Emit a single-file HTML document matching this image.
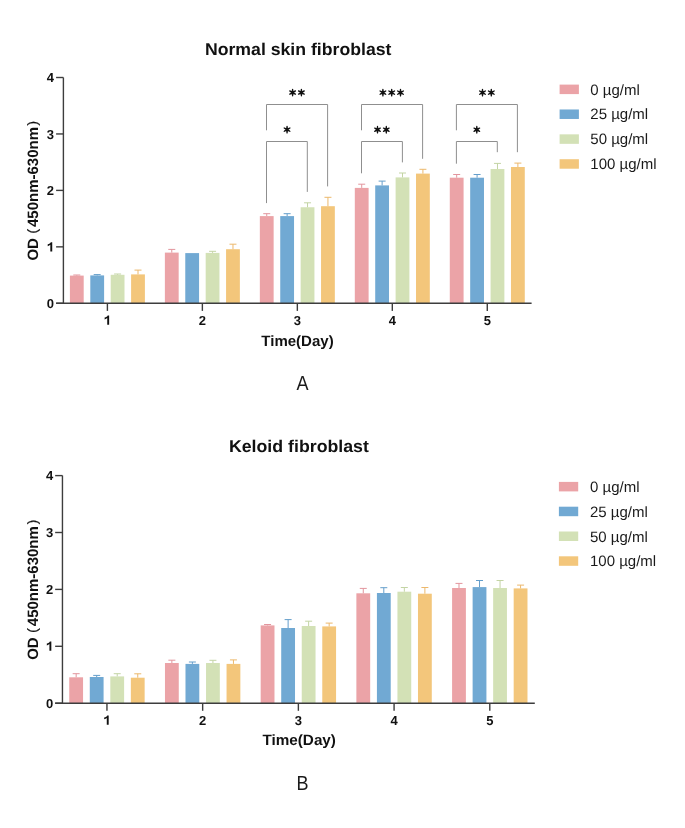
<!DOCTYPE html>
<html><head><meta charset="utf-8"><style>
html,body{margin:0;padding:0;background:#fff;}
body{width:685px;height:828px;overflow:hidden;}
svg{display:block;filter:blur(0.4px);}
text{font-family:"Liberation Sans",sans-serif;text-rendering:geometricPrecision;}
.tk{font-size:13px;font-weight:bold;fill:#111;}
.ttl{font-size:17px;font-weight:bold;fill:#111;}
.axt{font-size:15px;font-weight:bold;fill:#111;}
.lg{font-size:15px;fill:#1a1a1a;}
.par{font-size:13.5px;fill:#111;stroke:#111;stroke-width:0.3px;}
.lbl{font-size:20.5px;fill:#1a1a1a;}
</style></head><body>
<svg width="685" height="828" viewBox="0 0 685 828">
<rect width="685" height="828" fill="#fff"/>
<rect x="69.90" y="275.60" width="13.80" height="27.70" fill="#EBA3A7"/>
<line x1="76.80" y1="275.60" x2="76.80" y2="275.00" stroke="#E2959D" stroke-width="1"/>
<line x1="73.30" y1="275.00" x2="80.30" y2="275.00" stroke="#E2959D" stroke-width="1"/>
<rect x="90.30" y="275.40" width="13.80" height="27.90" fill="#71A9D3"/>
<line x1="97.20" y1="275.40" x2="97.20" y2="274.60" stroke="#649ECB" stroke-width="1"/>
<line x1="93.70" y1="274.60" x2="100.70" y2="274.60" stroke="#649ECB" stroke-width="1"/>
<rect x="110.70" y="274.80" width="13.80" height="28.50" fill="#D3E1B6"/>
<line x1="117.60" y1="274.80" x2="117.60" y2="274.00" stroke="#C3D4A4" stroke-width="1"/>
<line x1="114.10" y1="274.00" x2="121.10" y2="274.00" stroke="#C3D4A4" stroke-width="1"/>
<rect x="131.10" y="274.40" width="13.80" height="28.90" fill="#F3C67B"/>
<line x1="138.00" y1="274.40" x2="138.00" y2="270.10" stroke="#ECB86C" stroke-width="1"/>
<line x1="134.50" y1="270.10" x2="141.50" y2="270.10" stroke="#ECB86C" stroke-width="1"/>
<rect x="164.87" y="252.60" width="13.80" height="50.70" fill="#EBA3A7"/>
<line x1="171.77" y1="252.60" x2="171.77" y2="249.40" stroke="#E2959D" stroke-width="1"/>
<line x1="168.27" y1="249.40" x2="175.27" y2="249.40" stroke="#E2959D" stroke-width="1"/>
<rect x="185.27" y="253.10" width="13.80" height="50.20" fill="#71A9D3"/>
<rect x="205.67" y="252.90" width="13.80" height="50.40" fill="#D3E1B6"/>
<line x1="212.57" y1="252.90" x2="212.57" y2="251.30" stroke="#C3D4A4" stroke-width="1"/>
<line x1="209.07" y1="251.30" x2="216.07" y2="251.30" stroke="#C3D4A4" stroke-width="1"/>
<rect x="226.07" y="249.20" width="13.80" height="54.10" fill="#F3C67B"/>
<line x1="232.97" y1="249.20" x2="232.97" y2="244.20" stroke="#ECB86C" stroke-width="1"/>
<line x1="229.47" y1="244.20" x2="236.47" y2="244.20" stroke="#ECB86C" stroke-width="1"/>
<rect x="259.84" y="216.10" width="13.80" height="87.20" fill="#EBA3A7"/>
<line x1="266.74" y1="216.10" x2="266.74" y2="213.70" stroke="#E2959D" stroke-width="1"/>
<line x1="263.24" y1="213.70" x2="270.24" y2="213.70" stroke="#E2959D" stroke-width="1"/>
<rect x="280.24" y="216.10" width="13.80" height="87.20" fill="#71A9D3"/>
<line x1="287.14" y1="216.10" x2="287.14" y2="213.70" stroke="#649ECB" stroke-width="1"/>
<line x1="283.64" y1="213.70" x2="290.64" y2="213.70" stroke="#649ECB" stroke-width="1"/>
<rect x="300.64" y="207.25" width="13.80" height="96.05" fill="#D3E1B6"/>
<line x1="307.54" y1="207.25" x2="307.54" y2="202.80" stroke="#C3D4A4" stroke-width="1"/>
<line x1="304.04" y1="202.80" x2="311.04" y2="202.80" stroke="#C3D4A4" stroke-width="1"/>
<rect x="321.04" y="206.20" width="13.80" height="97.10" fill="#F3C67B"/>
<line x1="327.94" y1="206.20" x2="327.94" y2="197.30" stroke="#ECB86C" stroke-width="1"/>
<line x1="324.44" y1="197.30" x2="331.44" y2="197.30" stroke="#ECB86C" stroke-width="1"/>
<rect x="354.81" y="187.90" width="13.80" height="115.40" fill="#EBA3A7"/>
<line x1="361.71" y1="187.90" x2="361.71" y2="184.20" stroke="#E2959D" stroke-width="1"/>
<line x1="358.21" y1="184.20" x2="365.21" y2="184.20" stroke="#E2959D" stroke-width="1"/>
<rect x="375.21" y="185.40" width="13.80" height="117.90" fill="#71A9D3"/>
<line x1="382.11" y1="185.40" x2="382.11" y2="181.10" stroke="#649ECB" stroke-width="1"/>
<line x1="378.61" y1="181.10" x2="385.61" y2="181.10" stroke="#649ECB" stroke-width="1"/>
<rect x="395.61" y="177.40" width="13.80" height="125.90" fill="#D3E1B6"/>
<line x1="402.51" y1="177.40" x2="402.51" y2="173.00" stroke="#C3D4A4" stroke-width="1"/>
<line x1="399.01" y1="173.00" x2="406.01" y2="173.00" stroke="#C3D4A4" stroke-width="1"/>
<rect x="416.01" y="173.60" width="13.80" height="129.70" fill="#F3C67B"/>
<line x1="422.91" y1="173.60" x2="422.91" y2="169.30" stroke="#ECB86C" stroke-width="1"/>
<line x1="419.41" y1="169.30" x2="426.41" y2="169.30" stroke="#ECB86C" stroke-width="1"/>
<rect x="449.78" y="177.70" width="13.80" height="125.60" fill="#EBA3A7"/>
<line x1="456.68" y1="177.70" x2="456.68" y2="174.50" stroke="#E2959D" stroke-width="1"/>
<line x1="453.18" y1="174.50" x2="460.18" y2="174.50" stroke="#E2959D" stroke-width="1"/>
<rect x="470.18" y="177.70" width="13.80" height="125.60" fill="#71A9D3"/>
<line x1="477.08" y1="177.70" x2="477.08" y2="174.50" stroke="#649ECB" stroke-width="1"/>
<line x1="473.58" y1="174.50" x2="480.58" y2="174.50" stroke="#649ECB" stroke-width="1"/>
<rect x="490.58" y="169.00" width="13.80" height="134.30" fill="#D3E1B6"/>
<line x1="497.48" y1="169.00" x2="497.48" y2="163.40" stroke="#C3D4A4" stroke-width="1"/>
<line x1="493.98" y1="163.40" x2="500.98" y2="163.40" stroke="#C3D4A4" stroke-width="1"/>
<rect x="510.98" y="167.00" width="13.80" height="136.30" fill="#F3C67B"/>
<line x1="517.88" y1="167.00" x2="517.88" y2="163.10" stroke="#ECB86C" stroke-width="1"/>
<line x1="514.38" y1="163.10" x2="521.38" y2="163.10" stroke="#ECB86C" stroke-width="1"/>
<path d="M63.40 77.50 V303.30 M56.10 303.30 H531.60" stroke="#3d3d3d" stroke-width="1.4" fill="none"/>
<line x1="56.10" y1="303.30" x2="63.40" y2="303.30" stroke="#3d3d3d" stroke-width="1.4"/>
<text x="54.10" y="308.00" class="tk" text-anchor="end">0</text>
<line x1="56.10" y1="246.85" x2="63.40" y2="246.85" stroke="#3d3d3d" stroke-width="1.4"/>
<path d="M52.23 251.55 L52.23 242.24 L50.77 242.24 C50.38 243.23 49.34 243.88 47.72 244.37 L47.72 246.22 C48.82 245.83 49.73 245.31 50.32 244.86 L50.32 251.55 Z" fill="#111"/>
<line x1="56.10" y1="190.40" x2="63.40" y2="190.40" stroke="#3d3d3d" stroke-width="1.4"/>
<text x="54.10" y="195.10" class="tk" text-anchor="end">2</text>
<line x1="56.10" y1="133.95" x2="63.40" y2="133.95" stroke="#3d3d3d" stroke-width="1.4"/>
<text x="54.10" y="138.65" class="tk" text-anchor="end">3</text>
<line x1="56.10" y1="77.50" x2="63.40" y2="77.50" stroke="#3d3d3d" stroke-width="1.4"/>
<text x="54.10" y="82.20" class="tk" text-anchor="end">4</text>
<line x1="107.40" y1="303.30" x2="107.40" y2="310.90" stroke="#3d3d3d" stroke-width="1.4"/>
<path d="M109.14 324.80 L109.14 315.49 L107.69 315.49 C107.30 316.48 106.26 317.13 104.63 317.62 L104.63 319.47 C105.74 319.08 106.65 318.56 107.23 318.11 L107.23 324.80 Z" fill="#111"/>
<line x1="202.37" y1="303.30" x2="202.37" y2="310.90" stroke="#3d3d3d" stroke-width="1.4"/>
<text x="202.37" y="324.80" class="tk" text-anchor="middle">2</text>
<line x1="297.34" y1="303.30" x2="297.34" y2="310.90" stroke="#3d3d3d" stroke-width="1.4"/>
<text x="297.34" y="324.80" class="tk" text-anchor="middle">3</text>
<line x1="392.31" y1="303.30" x2="392.31" y2="310.90" stroke="#3d3d3d" stroke-width="1.4"/>
<text x="392.31" y="324.80" class="tk" text-anchor="middle">4</text>
<line x1="487.28" y1="303.30" x2="487.28" y2="310.90" stroke="#3d3d3d" stroke-width="1.4"/>
<text x="487.28" y="324.80" class="tk" text-anchor="middle">5</text>
<text x="298.20" y="54.50" class="ttl" text-anchor="middle" textLength="186.5" lengthAdjust="spacingAndGlyphs">Normal skin fibroblast</text>
<text x="297.50" y="345.60" class="axt" text-anchor="middle" textLength="72.3" lengthAdjust="spacingAndGlyphs">Time(Day)</text>
<g transform="translate(38.00 260.60) rotate(-90)"><text x="0" y="0" class="axt">OD</text><text x="27" y="-1.0" class="par">(</text><text x="33.6" y="0" class="axt">450nm-630nm</text><text x="135" y="-1.0" class="par">)</text></g>
<text transform="translate(302.40 390.00) scale(0.88 1)" class="lbl" text-anchor="middle">A</text>
<rect x="559.60" y="84.60" width="19.3" height="9.5" fill="#EBA3A7"/>
<text x="590.30" y="94.60" class="lg">0 µg/ml</text>
<rect x="559.60" y="109.47" width="19.3" height="9.5" fill="#71A9D3"/>
<text x="590.30" y="119.47" class="lg">25 µg/ml</text>
<rect x="559.60" y="134.34" width="19.3" height="9.5" fill="#D3E1B6"/>
<text x="590.30" y="144.34" class="lg">50 µg/ml</text>
<rect x="559.60" y="159.21" width="19.3" height="9.5" fill="#F3C67B"/>
<text x="590.30" y="169.21" class="lg">100 µg/ml</text>
<path d="M266.50 130.30 V104.50 H327.60 V186.40" stroke="#8f8f8f" stroke-width="1" fill="none"/>
<path d="M266.50 203.10 V141.50 H307.30 V191.90" stroke="#8f8f8f" stroke-width="1" fill="none"/>
<path d="M361.50 130.30 V104.50 H422.60 V158.80" stroke="#8f8f8f" stroke-width="1" fill="none"/>
<path d="M361.50 173.30 V141.50 H402.40 V162.40" stroke="#8f8f8f" stroke-width="1" fill="none"/>
<path d="M456.40 130.30 V104.50 H517.40 V152.20" stroke="#8f8f8f" stroke-width="1" fill="none"/>
<path d="M456.40 163.70 V141.50 H497.30 V152.20" stroke="#8f8f8f" stroke-width="1" fill="none"/>
<path d="M291.55 92.55 L291.98 95.85 L293.23 95.85 L293.65 92.55 Z M293.23 95.85 A0.62 0.62 0 1 0 291.98 95.85 A0.62 0.62 0 1 0 293.23 95.85 Z M292.08 93.46 L295.15 94.74 L295.77 93.66 L293.12 91.64 Z M296.08 94.20 A0.62 0.62 0 1 0 294.83 94.20 A0.62 0.62 0 1 0 296.08 94.20 Z M293.12 93.46 L295.77 91.44 L295.15 90.36 L292.08 91.64 Z M296.08 90.90 A0.62 0.62 0 1 0 294.83 90.90 A0.62 0.62 0 1 0 296.08 90.90 Z M293.65 92.55 L293.23 89.25 L291.98 89.25 L291.55 92.55 Z M293.23 89.25 A0.62 0.62 0 1 0 291.98 89.25 A0.62 0.62 0 1 0 293.23 89.25 Z M292.08 91.64 L289.43 93.66 L290.05 94.74 L293.12 93.46 Z M290.37 94.20 A0.62 0.62 0 1 0 289.12 94.20 A0.62 0.62 0 1 0 290.37 94.20 Z M293.12 91.64 L290.05 90.36 L289.43 91.44 L292.08 93.46 Z M290.37 90.90 A0.62 0.62 0 1 0 289.12 90.90 A0.62 0.62 0 1 0 290.37 90.90 Z" fill="#111"/><circle cx="292.60" cy="92.55" r="1.25" fill="#111"/>
<path d="M300.35 92.55 L300.77 95.85 L302.02 95.85 L302.45 92.55 Z M302.02 95.85 A0.62 0.62 0 1 0 300.77 95.85 A0.62 0.62 0 1 0 302.02 95.85 Z M300.88 93.46 L303.95 94.74 L304.57 93.66 L301.92 91.64 Z M304.88 94.20 A0.62 0.62 0 1 0 303.63 94.20 A0.62 0.62 0 1 0 304.88 94.20 Z M301.92 93.46 L304.57 91.44 L303.95 90.36 L300.88 91.64 Z M304.88 90.90 A0.62 0.62 0 1 0 303.63 90.90 A0.62 0.62 0 1 0 304.88 90.90 Z M302.45 92.55 L302.02 89.25 L300.77 89.25 L300.35 92.55 Z M302.02 89.25 A0.62 0.62 0 1 0 300.77 89.25 A0.62 0.62 0 1 0 302.02 89.25 Z M300.88 91.64 L298.23 93.66 L298.85 94.74 L301.92 93.46 Z M299.17 94.20 A0.62 0.62 0 1 0 297.92 94.20 A0.62 0.62 0 1 0 299.17 94.20 Z M301.92 91.64 L298.85 90.36 L298.23 91.44 L300.88 93.46 Z M299.17 90.90 A0.62 0.62 0 1 0 297.92 90.90 A0.62 0.62 0 1 0 299.17 90.90 Z" fill="#111"/><circle cx="301.40" cy="92.55" r="1.25" fill="#111"/>
<path d="M286.00 129.60 L286.43 132.90 L287.68 132.90 L288.10 129.60 Z M287.68 132.90 A0.62 0.62 0 1 0 286.43 132.90 A0.62 0.62 0 1 0 287.68 132.90 Z M286.53 130.51 L289.60 131.79 L290.22 130.71 L287.57 128.69 Z M290.53 131.25 A0.62 0.62 0 1 0 289.28 131.25 A0.62 0.62 0 1 0 290.53 131.25 Z M287.57 130.51 L290.22 128.49 L289.60 127.41 L286.53 128.69 Z M290.53 127.95 A0.62 0.62 0 1 0 289.28 127.95 A0.62 0.62 0 1 0 290.53 127.95 Z M288.10 129.60 L287.68 126.30 L286.43 126.30 L286.00 129.60 Z M287.68 126.30 A0.62 0.62 0 1 0 286.43 126.30 A0.62 0.62 0 1 0 287.68 126.30 Z M286.53 128.69 L283.88 130.71 L284.50 131.79 L287.57 130.51 Z M284.82 131.25 A0.62 0.62 0 1 0 283.57 131.25 A0.62 0.62 0 1 0 284.82 131.25 Z M287.57 128.69 L284.50 127.41 L283.88 128.49 L286.53 130.51 Z M284.82 127.95 A0.62 0.62 0 1 0 283.57 127.95 A0.62 0.62 0 1 0 284.82 127.95 Z" fill="#111"/><circle cx="287.05" cy="129.60" r="1.25" fill="#111"/>
<path d="M381.85 92.60 L382.27 95.90 L383.52 95.90 L383.95 92.60 Z M383.52 95.90 A0.62 0.62 0 1 0 382.27 95.90 A0.62 0.62 0 1 0 383.52 95.90 Z M382.38 93.51 L385.45 94.79 L386.07 93.71 L383.42 91.69 Z M386.38 94.25 A0.62 0.62 0 1 0 385.13 94.25 A0.62 0.62 0 1 0 386.38 94.25 Z M383.42 93.51 L386.07 91.49 L385.45 90.41 L382.38 91.69 Z M386.38 90.95 A0.62 0.62 0 1 0 385.13 90.95 A0.62 0.62 0 1 0 386.38 90.95 Z M383.95 92.60 L383.52 89.30 L382.27 89.30 L381.85 92.60 Z M383.52 89.30 A0.62 0.62 0 1 0 382.27 89.30 A0.62 0.62 0 1 0 383.52 89.30 Z M382.38 91.69 L379.73 93.71 L380.35 94.79 L383.42 93.51 Z M380.67 94.25 A0.62 0.62 0 1 0 379.42 94.25 A0.62 0.62 0 1 0 380.67 94.25 Z M383.42 91.69 L380.35 90.41 L379.73 91.49 L382.38 93.51 Z M380.67 90.95 A0.62 0.62 0 1 0 379.42 90.95 A0.62 0.62 0 1 0 380.67 90.95 Z" fill="#111"/><circle cx="382.90" cy="92.60" r="1.25" fill="#111"/>
<path d="M390.65 92.60 L391.07 95.90 L392.32 95.90 L392.75 92.60 Z M392.32 95.90 A0.62 0.62 0 1 0 391.07 95.90 A0.62 0.62 0 1 0 392.32 95.90 Z M391.18 93.51 L394.25 94.79 L394.87 93.71 L392.22 91.69 Z M395.18 94.25 A0.62 0.62 0 1 0 393.93 94.25 A0.62 0.62 0 1 0 395.18 94.25 Z M392.22 93.51 L394.87 91.49 L394.25 90.41 L391.18 91.69 Z M395.18 90.95 A0.62 0.62 0 1 0 393.93 90.95 A0.62 0.62 0 1 0 395.18 90.95 Z M392.75 92.60 L392.32 89.30 L391.07 89.30 L390.65 92.60 Z M392.32 89.30 A0.62 0.62 0 1 0 391.07 89.30 A0.62 0.62 0 1 0 392.32 89.30 Z M391.18 91.69 L388.53 93.71 L389.15 94.79 L392.22 93.51 Z M389.47 94.25 A0.62 0.62 0 1 0 388.22 94.25 A0.62 0.62 0 1 0 389.47 94.25 Z M392.22 91.69 L389.15 90.41 L388.53 91.49 L391.18 93.51 Z M389.47 90.95 A0.62 0.62 0 1 0 388.22 90.95 A0.62 0.62 0 1 0 389.47 90.95 Z" fill="#111"/><circle cx="391.70" cy="92.60" r="1.25" fill="#111"/>
<path d="M399.45 92.60 L399.88 95.90 L401.12 95.90 L401.55 92.60 Z M401.12 95.90 A0.62 0.62 0 1 0 399.88 95.90 A0.62 0.62 0 1 0 401.12 95.90 Z M399.98 93.51 L403.05 94.79 L403.67 93.71 L401.02 91.69 Z M403.98 94.25 A0.62 0.62 0 1 0 402.73 94.25 A0.62 0.62 0 1 0 403.98 94.25 Z M401.02 93.51 L403.67 91.49 L403.05 90.41 L399.98 91.69 Z M403.98 90.95 A0.62 0.62 0 1 0 402.73 90.95 A0.62 0.62 0 1 0 403.98 90.95 Z M401.55 92.60 L401.12 89.30 L399.88 89.30 L399.45 92.60 Z M401.12 89.30 A0.62 0.62 0 1 0 399.88 89.30 A0.62 0.62 0 1 0 401.12 89.30 Z M399.98 91.69 L397.33 93.71 L397.95 94.79 L401.02 93.51 Z M398.27 94.25 A0.62 0.62 0 1 0 397.02 94.25 A0.62 0.62 0 1 0 398.27 94.25 Z M401.02 91.69 L397.95 90.41 L397.33 91.49 L399.98 93.51 Z M398.27 90.95 A0.62 0.62 0 1 0 397.02 90.95 A0.62 0.62 0 1 0 398.27 90.95 Z" fill="#111"/><circle cx="400.50" cy="92.60" r="1.25" fill="#111"/>
<path d="M376.45 129.70 L376.88 133.00 L378.12 133.00 L378.55 129.70 Z M378.12 133.00 A0.62 0.62 0 1 0 376.88 133.00 A0.62 0.62 0 1 0 378.12 133.00 Z M376.98 130.61 L380.05 131.89 L380.67 130.81 L378.02 128.79 Z M380.98 131.35 A0.62 0.62 0 1 0 379.73 131.35 A0.62 0.62 0 1 0 380.98 131.35 Z M378.02 130.61 L380.67 128.59 L380.05 127.51 L376.98 128.79 Z M380.98 128.05 A0.62 0.62 0 1 0 379.73 128.05 A0.62 0.62 0 1 0 380.98 128.05 Z M378.55 129.70 L378.12 126.40 L376.88 126.40 L376.45 129.70 Z M378.12 126.40 A0.62 0.62 0 1 0 376.88 126.40 A0.62 0.62 0 1 0 378.12 126.40 Z M376.98 128.79 L374.33 130.81 L374.95 131.89 L378.02 130.61 Z M375.27 131.35 A0.62 0.62 0 1 0 374.02 131.35 A0.62 0.62 0 1 0 375.27 131.35 Z M378.02 128.79 L374.95 127.51 L374.33 128.59 L376.98 130.61 Z M375.27 128.05 A0.62 0.62 0 1 0 374.02 128.05 A0.62 0.62 0 1 0 375.27 128.05 Z" fill="#111"/><circle cx="377.50" cy="129.70" r="1.25" fill="#111"/>
<path d="M385.25 129.70 L385.67 133.00 L386.92 133.00 L387.35 129.70 Z M386.92 133.00 A0.62 0.62 0 1 0 385.67 133.00 A0.62 0.62 0 1 0 386.92 133.00 Z M385.77 130.61 L388.85 131.89 L389.47 130.81 L386.82 128.79 Z M389.78 131.35 A0.62 0.62 0 1 0 388.53 131.35 A0.62 0.62 0 1 0 389.78 131.35 Z M386.82 130.61 L389.47 128.59 L388.85 127.51 L385.77 128.79 Z M389.78 128.05 A0.62 0.62 0 1 0 388.53 128.05 A0.62 0.62 0 1 0 389.78 128.05 Z M387.35 129.70 L386.92 126.40 L385.67 126.40 L385.25 129.70 Z M386.92 126.40 A0.62 0.62 0 1 0 385.67 126.40 A0.62 0.62 0 1 0 386.92 126.40 Z M385.77 128.79 L383.13 130.81 L383.75 131.89 L386.82 130.61 Z M384.07 131.35 A0.62 0.62 0 1 0 382.82 131.35 A0.62 0.62 0 1 0 384.07 131.35 Z M386.82 128.79 L383.75 127.51 L383.13 128.59 L385.77 130.61 Z M384.07 128.05 A0.62 0.62 0 1 0 382.82 128.05 A0.62 0.62 0 1 0 384.07 128.05 Z" fill="#111"/><circle cx="386.30" cy="129.70" r="1.25" fill="#111"/>
<path d="M481.45 92.60 L481.88 95.90 L483.12 95.90 L483.55 92.60 Z M483.12 95.90 A0.62 0.62 0 1 0 481.88 95.90 A0.62 0.62 0 1 0 483.12 95.90 Z M481.98 93.51 L485.05 94.79 L485.67 93.71 L483.02 91.69 Z M485.98 94.25 A0.62 0.62 0 1 0 484.73 94.25 A0.62 0.62 0 1 0 485.98 94.25 Z M483.02 93.51 L485.67 91.49 L485.05 90.41 L481.98 91.69 Z M485.98 90.95 A0.62 0.62 0 1 0 484.73 90.95 A0.62 0.62 0 1 0 485.98 90.95 Z M483.55 92.60 L483.12 89.30 L481.88 89.30 L481.45 92.60 Z M483.12 89.30 A0.62 0.62 0 1 0 481.88 89.30 A0.62 0.62 0 1 0 483.12 89.30 Z M481.98 91.69 L479.33 93.71 L479.95 94.79 L483.02 93.51 Z M480.27 94.25 A0.62 0.62 0 1 0 479.02 94.25 A0.62 0.62 0 1 0 480.27 94.25 Z M483.02 91.69 L479.95 90.41 L479.33 91.49 L481.98 93.51 Z M480.27 90.95 A0.62 0.62 0 1 0 479.02 90.95 A0.62 0.62 0 1 0 480.27 90.95 Z" fill="#111"/><circle cx="482.50" cy="92.60" r="1.25" fill="#111"/>
<path d="M490.25 92.60 L490.67 95.90 L491.92 95.90 L492.35 92.60 Z M491.92 95.90 A0.62 0.62 0 1 0 490.67 95.90 A0.62 0.62 0 1 0 491.92 95.90 Z M490.77 93.51 L493.85 94.79 L494.47 93.71 L491.82 91.69 Z M494.78 94.25 A0.62 0.62 0 1 0 493.53 94.25 A0.62 0.62 0 1 0 494.78 94.25 Z M491.82 93.51 L494.47 91.49 L493.85 90.41 L490.77 91.69 Z M494.78 90.95 A0.62 0.62 0 1 0 493.53 90.95 A0.62 0.62 0 1 0 494.78 90.95 Z M492.35 92.60 L491.92 89.30 L490.67 89.30 L490.25 92.60 Z M491.92 89.30 A0.62 0.62 0 1 0 490.67 89.30 A0.62 0.62 0 1 0 491.92 89.30 Z M490.77 91.69 L488.13 93.71 L488.75 94.79 L491.82 93.51 Z M489.07 94.25 A0.62 0.62 0 1 0 487.82 94.25 A0.62 0.62 0 1 0 489.07 94.25 Z M491.82 91.69 L488.75 90.41 L488.13 91.49 L490.77 93.51 Z M489.07 90.95 A0.62 0.62 0 1 0 487.82 90.95 A0.62 0.62 0 1 0 489.07 90.95 Z" fill="#111"/><circle cx="491.30" cy="92.60" r="1.25" fill="#111"/>
<path d="M475.75 129.70 L476.18 133.00 L477.43 133.00 L477.85 129.70 Z M477.43 133.00 A0.62 0.62 0 1 0 476.18 133.00 A0.62 0.62 0 1 0 477.43 133.00 Z M476.28 130.61 L479.35 131.89 L479.97 130.81 L477.32 128.79 Z M480.28 131.35 A0.62 0.62 0 1 0 479.03 131.35 A0.62 0.62 0 1 0 480.28 131.35 Z M477.32 130.61 L479.97 128.59 L479.35 127.51 L476.28 128.79 Z M480.28 128.05 A0.62 0.62 0 1 0 479.03 128.05 A0.62 0.62 0 1 0 480.28 128.05 Z M477.85 129.70 L477.43 126.40 L476.18 126.40 L475.75 129.70 Z M477.43 126.40 A0.62 0.62 0 1 0 476.18 126.40 A0.62 0.62 0 1 0 477.43 126.40 Z M476.28 128.79 L473.63 130.81 L474.25 131.89 L477.32 130.61 Z M474.57 131.35 A0.62 0.62 0 1 0 473.32 131.35 A0.62 0.62 0 1 0 474.57 131.35 Z M477.32 128.79 L474.25 127.51 L473.63 128.59 L476.28 130.61 Z M474.57 128.05 A0.62 0.62 0 1 0 473.32 128.05 A0.62 0.62 0 1 0 474.57 128.05 Z" fill="#111"/><circle cx="476.80" cy="129.70" r="1.25" fill="#111"/>
<rect x="69.25" y="677.30" width="13.80" height="25.90" fill="#EBA3A7"/>
<line x1="76.16" y1="677.30" x2="76.16" y2="673.70" stroke="#E2959D" stroke-width="1"/>
<line x1="72.66" y1="673.70" x2="79.66" y2="673.70" stroke="#E2959D" stroke-width="1"/>
<rect x="89.78" y="677.00" width="13.80" height="26.20" fill="#71A9D3"/>
<line x1="96.69" y1="677.00" x2="96.69" y2="675.40" stroke="#649ECB" stroke-width="1"/>
<line x1="93.19" y1="675.40" x2="100.19" y2="675.40" stroke="#649ECB" stroke-width="1"/>
<rect x="110.31" y="676.40" width="13.80" height="26.80" fill="#D3E1B6"/>
<line x1="117.22" y1="676.40" x2="117.22" y2="673.70" stroke="#C3D4A4" stroke-width="1"/>
<line x1="113.72" y1="673.70" x2="120.72" y2="673.70" stroke="#C3D4A4" stroke-width="1"/>
<rect x="130.84" y="677.70" width="13.80" height="25.50" fill="#F3C67B"/>
<line x1="137.75" y1="677.70" x2="137.75" y2="673.80" stroke="#ECB86C" stroke-width="1"/>
<line x1="134.25" y1="673.80" x2="141.25" y2="673.80" stroke="#ECB86C" stroke-width="1"/>
<rect x="164.97" y="663.00" width="13.80" height="40.20" fill="#EBA3A7"/>
<line x1="171.87" y1="663.00" x2="171.87" y2="660.20" stroke="#E2959D" stroke-width="1"/>
<line x1="168.37" y1="660.20" x2="175.37" y2="660.20" stroke="#E2959D" stroke-width="1"/>
<rect x="185.49" y="663.90" width="13.80" height="39.30" fill="#71A9D3"/>
<line x1="192.39" y1="663.90" x2="192.39" y2="662.00" stroke="#649ECB" stroke-width="1"/>
<line x1="188.89" y1="662.00" x2="195.89" y2="662.00" stroke="#649ECB" stroke-width="1"/>
<rect x="206.03" y="663.00" width="13.80" height="40.20" fill="#D3E1B6"/>
<line x1="212.93" y1="663.00" x2="212.93" y2="660.30" stroke="#C3D4A4" stroke-width="1"/>
<line x1="209.43" y1="660.30" x2="216.43" y2="660.30" stroke="#C3D4A4" stroke-width="1"/>
<rect x="226.55" y="663.90" width="13.80" height="39.30" fill="#F3C67B"/>
<line x1="233.45" y1="663.90" x2="233.45" y2="659.90" stroke="#ECB86C" stroke-width="1"/>
<line x1="229.95" y1="659.90" x2="236.95" y2="659.90" stroke="#ECB86C" stroke-width="1"/>
<rect x="260.68" y="625.40" width="13.80" height="77.80" fill="#EBA3A7"/>
<line x1="267.57" y1="625.40" x2="267.57" y2="624.50" stroke="#E2959D" stroke-width="1"/>
<line x1="264.07" y1="624.50" x2="271.07" y2="624.50" stroke="#E2959D" stroke-width="1"/>
<rect x="281.21" y="628.00" width="13.80" height="75.20" fill="#71A9D3"/>
<line x1="288.11" y1="628.00" x2="288.11" y2="619.60" stroke="#649ECB" stroke-width="1"/>
<line x1="284.61" y1="619.60" x2="291.61" y2="619.60" stroke="#649ECB" stroke-width="1"/>
<rect x="301.74" y="626.00" width="13.80" height="77.20" fill="#D3E1B6"/>
<line x1="308.63" y1="626.00" x2="308.63" y2="621.20" stroke="#C3D4A4" stroke-width="1"/>
<line x1="305.13" y1="621.20" x2="312.13" y2="621.20" stroke="#C3D4A4" stroke-width="1"/>
<rect x="322.27" y="626.40" width="13.80" height="76.80" fill="#F3C67B"/>
<line x1="329.17" y1="626.40" x2="329.17" y2="623.10" stroke="#ECB86C" stroke-width="1"/>
<line x1="325.67" y1="623.10" x2="332.67" y2="623.10" stroke="#ECB86C" stroke-width="1"/>
<rect x="356.38" y="593.30" width="13.80" height="109.90" fill="#EBA3A7"/>
<line x1="363.28" y1="593.30" x2="363.28" y2="588.40" stroke="#E2959D" stroke-width="1"/>
<line x1="359.78" y1="588.40" x2="366.78" y2="588.40" stroke="#E2959D" stroke-width="1"/>
<rect x="376.92" y="593.00" width="13.80" height="110.20" fill="#71A9D3"/>
<line x1="383.81" y1="593.00" x2="383.81" y2="587.70" stroke="#649ECB" stroke-width="1"/>
<line x1="380.31" y1="587.70" x2="387.31" y2="587.70" stroke="#649ECB" stroke-width="1"/>
<rect x="397.44" y="591.70" width="13.80" height="111.50" fill="#D3E1B6"/>
<line x1="404.34" y1="591.70" x2="404.34" y2="587.50" stroke="#C3D4A4" stroke-width="1"/>
<line x1="400.84" y1="587.50" x2="407.84" y2="587.50" stroke="#C3D4A4" stroke-width="1"/>
<rect x="417.98" y="593.70" width="13.80" height="109.50" fill="#F3C67B"/>
<line x1="424.88" y1="593.70" x2="424.88" y2="587.50" stroke="#ECB86C" stroke-width="1"/>
<line x1="421.38" y1="587.50" x2="428.38" y2="587.50" stroke="#ECB86C" stroke-width="1"/>
<rect x="452.09" y="588.00" width="13.80" height="115.20" fill="#EBA3A7"/>
<line x1="458.99" y1="588.00" x2="458.99" y2="583.40" stroke="#E2959D" stroke-width="1"/>
<line x1="455.49" y1="583.40" x2="462.49" y2="583.40" stroke="#E2959D" stroke-width="1"/>
<rect x="472.62" y="587.10" width="13.80" height="116.10" fill="#71A9D3"/>
<line x1="479.52" y1="587.10" x2="479.52" y2="580.50" stroke="#649ECB" stroke-width="1"/>
<line x1="476.02" y1="580.50" x2="483.02" y2="580.50" stroke="#649ECB" stroke-width="1"/>
<rect x="493.15" y="588.00" width="13.80" height="115.20" fill="#D3E1B6"/>
<line x1="500.05" y1="588.00" x2="500.05" y2="580.50" stroke="#C3D4A4" stroke-width="1"/>
<line x1="496.55" y1="580.50" x2="503.55" y2="580.50" stroke="#C3D4A4" stroke-width="1"/>
<rect x="513.68" y="588.40" width="13.80" height="114.80" fill="#F3C67B"/>
<line x1="520.58" y1="588.40" x2="520.58" y2="585.10" stroke="#ECB86C" stroke-width="1"/>
<line x1="517.08" y1="585.10" x2="524.08" y2="585.10" stroke="#ECB86C" stroke-width="1"/>
<path d="M62.45 475.60 V703.20 M55.15 703.20 H534.80" stroke="#3d3d3d" stroke-width="1.4" fill="none"/>
<line x1="55.15" y1="703.20" x2="62.45" y2="703.20" stroke="#3d3d3d" stroke-width="1.4"/>
<text x="53.20" y="707.70" class="tk" text-anchor="end">0</text>
<line x1="55.15" y1="646.30" x2="62.45" y2="646.30" stroke="#3d3d3d" stroke-width="1.4"/>
<path d="M51.33 650.80 L51.33 641.49 L49.87 641.49 C49.48 642.48 48.44 643.13 46.82 643.62 L46.82 645.47 C47.92 645.08 48.83 644.56 49.42 644.11 L49.42 650.80 Z" fill="#111"/>
<line x1="55.15" y1="589.40" x2="62.45" y2="589.40" stroke="#3d3d3d" stroke-width="1.4"/>
<text x="53.20" y="593.90" class="tk" text-anchor="end">2</text>
<line x1="55.15" y1="532.50" x2="62.45" y2="532.50" stroke="#3d3d3d" stroke-width="1.4"/>
<text x="53.20" y="537.00" class="tk" text-anchor="end">3</text>
<line x1="55.15" y1="475.60" x2="62.45" y2="475.60" stroke="#3d3d3d" stroke-width="1.4"/>
<text x="53.20" y="480.10" class="tk" text-anchor="end">4</text>
<line x1="106.95" y1="703.20" x2="106.95" y2="710.80" stroke="#3d3d3d" stroke-width="1.4"/>
<path d="M108.69 724.70 L108.69 715.39 L107.24 715.39 C106.85 716.38 105.81 717.03 104.18 717.52 L104.18 719.37 C105.29 718.98 106.20 718.46 106.78 718.00 L106.78 724.70 Z" fill="#111"/>
<line x1="202.66" y1="703.20" x2="202.66" y2="710.80" stroke="#3d3d3d" stroke-width="1.4"/>
<text x="202.66" y="724.70" class="tk" text-anchor="middle">2</text>
<line x1="298.37" y1="703.20" x2="298.37" y2="710.80" stroke="#3d3d3d" stroke-width="1.4"/>
<text x="298.37" y="724.70" class="tk" text-anchor="middle">3</text>
<line x1="394.08" y1="703.20" x2="394.08" y2="710.80" stroke="#3d3d3d" stroke-width="1.4"/>
<text x="394.08" y="724.70" class="tk" text-anchor="middle">4</text>
<line x1="489.79" y1="703.20" x2="489.79" y2="710.80" stroke="#3d3d3d" stroke-width="1.4"/>
<text x="489.79" y="724.70" class="tk" text-anchor="middle">5</text>
<text x="298.90" y="451.80" class="ttl" text-anchor="middle" textLength="140" lengthAdjust="spacingAndGlyphs">Keloid fibroblast</text>
<text x="299.20" y="745.40" class="axt" text-anchor="middle" textLength="73.5" lengthAdjust="spacingAndGlyphs">Time(Day)</text>
<g transform="translate(38.00 659.80) rotate(-90)"><text x="0" y="0" class="axt">OD</text><text x="27" y="-1.0" class="par">(</text><text x="33.6" y="0" class="axt">450nm-630nm</text><text x="135.5" y="-1.0" class="par">)</text></g>
<text transform="translate(302.40 789.60) scale(0.88 1)" class="lbl" text-anchor="middle">B</text>
<rect x="558.90" y="481.90" width="19.3" height="9.5" fill="#EBA3A7"/>
<text x="590.00" y="491.90" class="lg">0 µg/ml</text>
<rect x="558.90" y="506.70" width="19.3" height="9.5" fill="#71A9D3"/>
<text x="590.00" y="516.70" class="lg">25 µg/ml</text>
<rect x="558.90" y="531.50" width="19.3" height="9.5" fill="#D3E1B6"/>
<text x="590.00" y="541.50" class="lg">50 µg/ml</text>
<rect x="558.90" y="556.30" width="19.3" height="9.5" fill="#F3C67B"/>
<text x="590.00" y="566.30" class="lg">100 µg/ml</text>
</svg>
</body></html>
